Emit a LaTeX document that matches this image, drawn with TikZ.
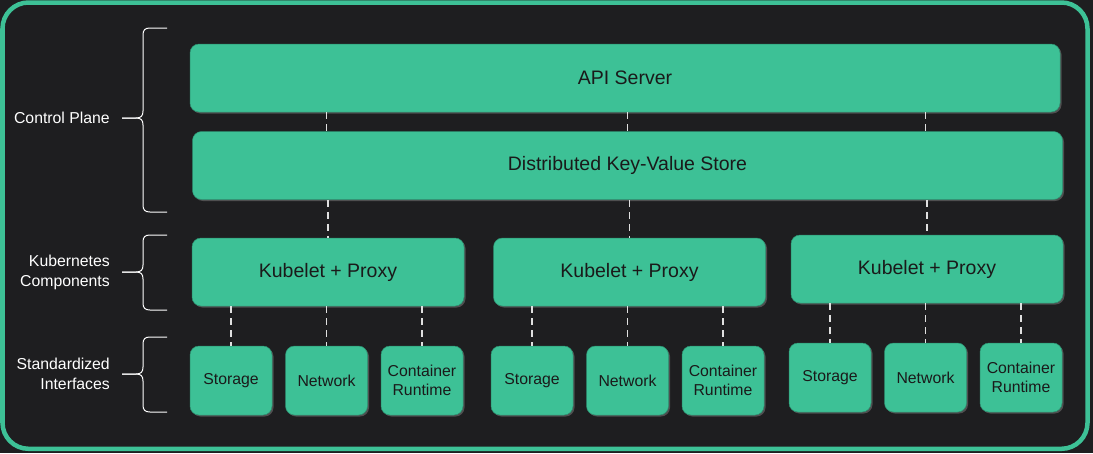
\documentclass[tikz,border=0pt]{standalone}
\usepackage{fontspec}
\setmainfont{Liberation Sans}
\usepackage{xcolor}
\usepackage{tikz}
\usetikzlibrary{positioning, shadows}

\definecolor{kgreen}{HTML}{3DC196}
\definecolor{bgdark}{HTML}{1E1E20}
\definecolor{ink}{HTML}{1A1A1A}

\begin{document}
\begin{tikzpicture}[
            x=1pt, y=-1pt,
            node distance=13pt,
            block/.style={rectangle, draw=kgreen!75!black, line width=0.5pt, fill=kgreen, rounded corners=9pt, text=ink, inner sep=0pt, drop shadow={opacity=0.5, shadow xshift=1.5pt, shadow yshift=-1.5pt}},
            wide/.style={block, minimum width=870pt, minimum height=68pt, font=\fontsize{19.5}{23}\selectfont},
            kubelet/.style={block, minimum width=272pt, minimum height=68pt, font=\fontsize{19.5}{23}\selectfont},
            iface/.style={block, minimum width=82pt, minimum height=69pt, align=center, font=\fontsize{15.8}{19.5}\selectfont},
            link/.style={draw=white!88!black, line width=1.7pt, dash pattern=on 7pt off 5pt},
            tag/.style={text=white, align=right, anchor=east, inner sep=0pt, font=\fontsize{15.8}{20}\selectfont},
            brace/.style={draw=white, line width=1pt}
        ]
        \useasboundingbox (0,0) rectangle (1093,453);
        \fill[bgdark] (0,0) rectangle (1093,453);
        \draw[kgreen, line width=4.5pt, rounded corners=26pt] (2.5,2.5) rectangle (1087.5,448.8);

        % Control plane
        \node[wide] (api) at (625,78) {API Server};
        \node[wide, below=19pt of api, xshift=2.5pt] (kvstore) {Distributed Key-Value Store};

        % Nodes
        \node[kubelet] (kubelet1) at (328,272) {Kubelet + Proxy};
        \node[kubelet, right=29pt of kubelet1] (kubelet2) {Kubelet + Proxy};
        \node[kubelet] (kubelet3) at (927,269) {Kubelet + Proxy};

        \node[iface] (storage1) at (231,380.5) {Storage};
        \node[iface, right=of storage1] (net1) {Network};
        \node[iface, right=of net1] (runtime1) {Container\\Runtime};

        \node[iface] (storage2) at (532,380.5) {Storage};
        \node[iface, right=of storage2] (net2) {Network};
        \node[iface, right=of net2] (runtime2) {Container\\Runtime};

        \node[iface] (storage3) at (830,377.5) {Storage};
        \node[iface, right=of storage3] (net3) {Network};
        \node[iface, right=of net3] (runtime3) {Container\\Runtime};

        % Dashed links
        \foreach \n in {1,2,3} {
            \draw[link] (api.south -| net\n) -- (kvstore.north -| net\n);
            \draw[link] (kvstore.south -| kubelet\n) -- (kubelet\n.north);
            \foreach \s in {storage, net, runtime}
                \draw[link] (kubelet\n.south -| \s\n) -- (\s\n.north);
        }

        % Layer labels
        \node[tag] (cp_label) at (110,118) {Control Plane};
        \node[tag] (kc_label) at (110,272) {Kubernetes\\Components};
        \node[tag] (si_label) at (110,374) {Standardized\\Interfaces};

        \foreach \ya/\yb/\ym in {28/212/118, 235/310/272, 337/412/374} {
            \draw[brace] (167,\ya) -- (150,\ya) .. controls (145,\ya) and (143,{\ya+2}) .. (143,{\ya+7})
                -- (143,{\ym-7}) .. controls (143,{\ym-2}) and (141,\ym) .. (136,\ym) -- (122,\ym);
            \draw[brace] (122,\ym) -- (136,\ym) .. controls (141,\ym) and (143,{\ym+2}) .. (143,{\ym+7})
                -- (143,{\yb-7}) .. controls (143,{\yb-2}) and (145,\yb) .. (150,\yb) -- (167,\yb);
        }

    \end{tikzpicture}
\end{document}
